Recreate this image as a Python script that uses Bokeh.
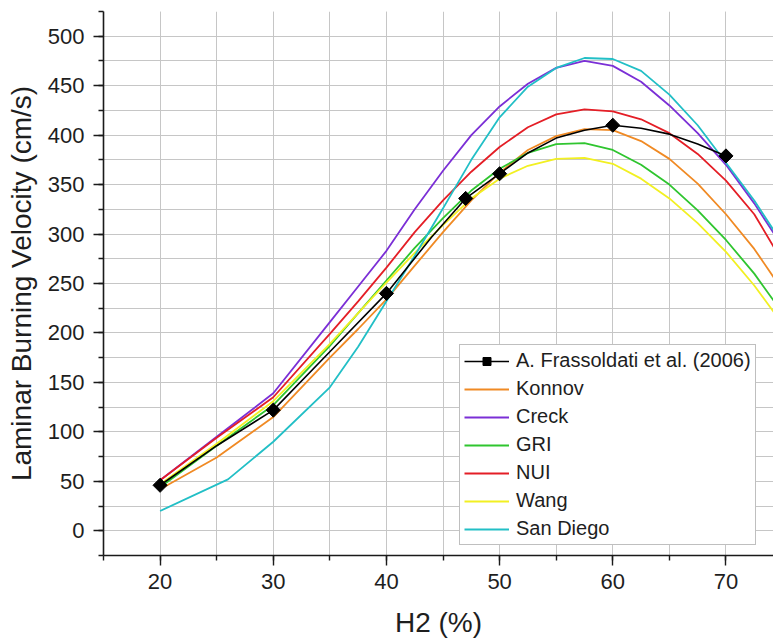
import math
from bokeh.plotting import figure
from bokeh.models import Range1d, SingleIntervalTicker, Legend, LegendItem
from bokeh.embed import file_html
from bokeh.resources import INLINE

# ---------------- data ----------------
h2_grid = [20, 25, 30, 35, 37.5, 40, 42.5, 45, 47.5, 50, 52.5, 55, 57.5, 60,
           62.5, 65, 67.5, 70, 72.5, 75]
konnov = [42, 74, 115, 175, 204, 234, 268, 302, 334, 362, 385, 399, 406, 405,
          394, 376, 351, 320, 285, 243]
creck = [51, 95, 139, 211, 247, 283, 325, 364, 400, 429, 452, 468, 475, 470,
         454, 430, 402, 370, 331, 287]
gri = [44, 86, 127, 187, 220, 253, 286, 316, 344, 366, 382, 391, 392, 385,
       370, 350, 324, 294, 260, 220]
nui = [51, 94, 135, 199, 232, 266, 302, 334, 363, 388, 408, 421, 426, 424,
       416, 402, 381, 354, 320, 272]
wang = [47, 88, 131, 189, 220, 251, 281, 309, 336, 356, 369, 376, 377, 371,
        356, 336, 311, 282, 248, 209]

sandiego_x = [20, 26, 30, 35, 37.5, 40, 42.5, 45, 47.5, 50, 52.5, 55, 57.5, 60,
              62.5, 65, 67.5, 70, 72.5, 75]
sandiego = [20, 52, 90, 145, 186, 232, 278, 326, 375, 418, 449, 468, 478, 477,
            465, 441, 410, 372, 334, 290]

frass_x = [20, 30, 40, 47, 50, 60, 70]
frass_y = [46, 122, 240, 336, 361, 410, 379]
frass_line_x = [20, 25, 30, 35, 40, 44, 47, 50, 52.5, 55, 57.5, 60, 62.5, 65, 67.5, 70]
frass_line_y = [46, 86, 122, 181, 240, 297, 336, 361, 382, 397, 405, 410, 407, 401, 391, 379]

x_label = "H2 (%)"
y_label = "Laminar Burning Velocity (cm/s)"

FONT = "Liberation Sans"
TXT = "#1e1e1e"

p = figure(width=773, height=643, output_backend="svg", toolbar_location=None,
           x_range=Range1d(15, 74.2), y_range=Range1d(-25, 525),
           min_border_left=103, min_border_right=0, min_border_top=11,
           min_border_bottom=88)
p.outline_line_color = None
p.background_fill_color = "white"
p.border_fill_color = "white"

p.xaxis.ticker = SingleIntervalTicker(interval=10, num_minor_ticks=2)
p.yaxis.ticker = SingleIntervalTicker(interval=50, num_minor_ticks=2)

for ax in (p.xaxis, p.yaxis):
    ax.axis_line_color = "#1a1a1a"
    ax.axis_line_width = 1.6
    ax.major_tick_line_color = "#1a1a1a"
    ax.minor_tick_line_color = "#1a1a1a"
    ax.major_tick_line_width = 1.4
    ax.minor_tick_line_width = 1.4
    ax.major_tick_in = 0
    ax.major_tick_out = 10
    ax.minor_tick_in = 0
    ax.minor_tick_out = 5
    ax.major_label_text_font = FONT
    ax.major_label_text_font_size = "22px"
    ax.major_label_text_color = TXT
    ax.axis_label_text_font = FONT
    ax.axis_label_text_font_size = "28px"
    ax.axis_label_text_font_style = "normal"
    ax.axis_label_text_color = TXT

p.xaxis.axis_label = x_label
p.yaxis.axis_label = y_label
p.xaxis.major_label_standoff = 8
p.yaxis.major_label_standoff = 9
p.xaxis.axis_label_standoff = 15
p.yaxis.axis_label_standoff = 8

for g in (p.xgrid, p.ygrid):
    g.grid_line_color = "#c6c6c6"
    g.grid_line_width = 1
    g.minor_grid_line_color = "#c6c6c6"
    g.minor_grid_line_width = 1

LW = 1.8
r_konnov = p.line(h2_grid, konnov, line_color="#F08A24", line_width=LW)
r_creck = p.line(h2_grid, creck, line_color="#7B2FD6", line_width=LW)
r_gri = p.line(h2_grid, gri, line_color="#2FC52F", line_width=LW)
r_nui = p.line(h2_grid, nui, line_color="#E41E26", line_width=LW)
r_wang = p.line(h2_grid, wang, line_color="#F2F022", line_width=LW)
r_sd = p.line(sandiego_x, sandiego, line_color="#22BFC6", line_width=LW)

r_fl = p.line(frass_line_x, frass_line_y, line_color="black", line_width=1.6)
r_fm = p.scatter(frass_x, frass_y, marker="square", size=10, angle=math.pi / 4,
                 fill_color="black", line_color="black")

legend = Legend(items=[
    LegendItem(label="A. Frassoldati et al. (2006)", renderers=[r_fl, r_fm]),
    LegendItem(label="Konnov", renderers=[r_konnov]),
    LegendItem(label="Creck", renderers=[r_creck]),
    LegendItem(label="GRI", renderers=[r_gri]),
    LegendItem(label="NUI", renderers=[r_nui]),
    LegendItem(label="Wang", renderers=[r_wang]),
    LegendItem(label="San Diego", renderers=[r_sd]),
], location=(356, 10))
legend.margin = 0
legend.padding = 4
legend.spacing = 5
legend.label_height = 20
legend.glyph_height = 20
legend.glyph_width = 45
legend.label_standoff = 7
legend.label_text_font = FONT
legend.label_text_font_size = "20px"
legend.label_text_color = TXT
legend.border_line_color = "#808080"
legend.border_line_width = 1
legend.background_fill_color = "white"
legend.background_fill_alpha = 1
p.add_layout(legend)

open("out.html", "w").write(file_html(p, INLINE))
